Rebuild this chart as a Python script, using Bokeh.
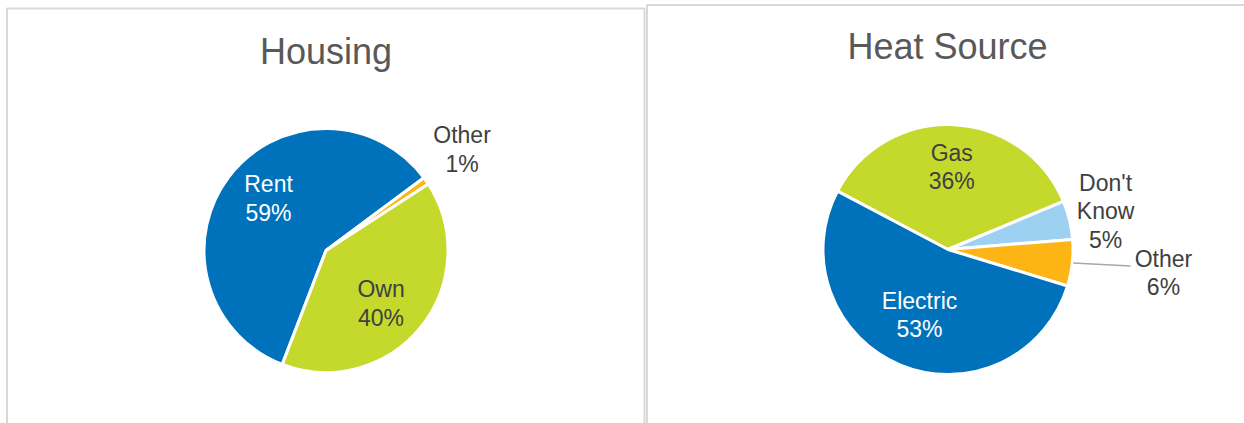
import numpy as np
from bokeh.plotting import figure
from bokeh.models import Range1d, ColumnDataSource
from bokeh.core.properties import value
from bokeh.embed import file_html
from bokeh.resources import INLINE

# ---------------- data ----------------
housing_labels = ["Rent", "Other", "Own"]
housing_values = [59, 1, 40]
housing_title = "Housing"

heat_labels = ["Gas", "Don't\nKnow", "Other", "Electric"]
heat_values = [36, 5, 6, 53]
heat_title = "Heat Source"

# ---------------- styles ----------------
BLUE = "#0072BC"
GREEN = "#C5D92D"
LIGHTBLUE = "#9DD1F1"
ORANGE = "#FDB515"
DARK = "#404040"
TITLE_C = "#595959"
BORDER = "#D9D9D9"
FONT = "Liberation Sans"

housing_colors = [BLUE, ORANGE, GREEN]
housing_text_colors = ["white", DARK, DARK]
housing_label_r = [0.635, 1.389, 0.626]
housing_label_nudge = [4.9, -1.8, 4.9]

heat_colors = [GREEN, LIGHTBLUE, ORANGE, BLUE]
heat_text_colors = [DARK, DARK, DARK, "white"]
heat_label_r = [0.661, 1.297, 1.734, 0.571]
heat_label_nudge = [0.0, 0.0, 0.0, 1.1]

W, H = 1244, 423
p = figure(width=W, height=H, output_backend="svg", toolbar_location=None,
           x_range=Range1d(0, W), y_range=Range1d(-H, 0),
           min_border=0, background_fill_color="white", border_fill_color="white")
p.axis.visible = False
p.grid.visible = False
p.outline_line_color = None

# panel borders
p.quad(left=[6.5], right=[644], top=[-8], bottom=[-440],
       fill_color=None, line_color=BORDER, line_width=2)
p.quad(left=[646.5], right=[1270], top=[-4.5], bottom=[-440],
       fill_color=None, line_color=BORDER, line_width=2)


def draw_pie(labels, values, colors, tcolors, lr, nudge, cx, cy, r, start, title, tx, ty):
    vals = np.array(values, dtype=float)
    frac = vals / vals.sum()
    phi_end = start + np.cumsum(frac) * 360.0      # clockwise from 12 o'clock
    phi_start = phi_end - frac * 360.0
    sa = np.radians(90.0 - phi_end)
    ea = np.radians(90.0 - phi_start)
    src = ColumnDataSource(dict(sa=sa, ea=ea, color=colors))
    p.wedge(x=cx, y=-cy, radius=r, radius_units="screen", start_angle="sa", end_angle="ea",
            direction="anticlock", fill_color="color", line_color="white", line_width=3,
            source=src)
    mid = (phi_start + phi_end) / 2.0 + np.array(nudge)
    d = np.array(lr) * r
    lx = cx + d * np.sin(np.radians(mid))
    ly = -cy + d * np.cos(np.radians(mid))
    texts = [f"{l}\n{int(v)}%" for l, v in zip(labels, values)]
    lsrc = ColumnDataSource(dict(x=lx, y=ly, t=texts, c=tcolors))
    p.text(x="x", y="y", text="t", text_color="c", source=lsrc,
           text_font=value(FONT), text_font_size="23px", text_align="center",
           text_baseline="middle", text_line_height=1.1)
    p.text(x=[tx], y=[-ty], text=[title], text_color=TITLE_C, text_font=value(FONT),
           text_font_size="36px", text_align="center", text_baseline="middle")
    return phi_start, phi_end, lx, ly


draw_pie(housing_labels, housing_values, housing_colors, housing_text_colors,
         housing_label_r, housing_label_nudge, 325.5, 250, 122, 201.0,
         housing_title, 325.5, 51)

ps, pe, lx, ly = draw_pie(heat_labels, heat_values, heat_colors, heat_text_colors,
                          heat_label_r, heat_label_nudge, 947.5, 249, 125, 297.8,
                          heat_title, 947, 46)

# leader line for heat "Other"
i = 2
m = np.radians((ps[i] + pe[i]) / 2.0)
x0 = 947.5 + 125 * np.sin(m)
y0 = -249 + 125 * np.cos(m)
p.line(x=[x0 + 1, lx[i] - 33], y=[y0, ly[i] + 7], line_color="#A6A6A6", line_width=1.5)

open("out.html", "w").write(file_html(p, INLINE))
